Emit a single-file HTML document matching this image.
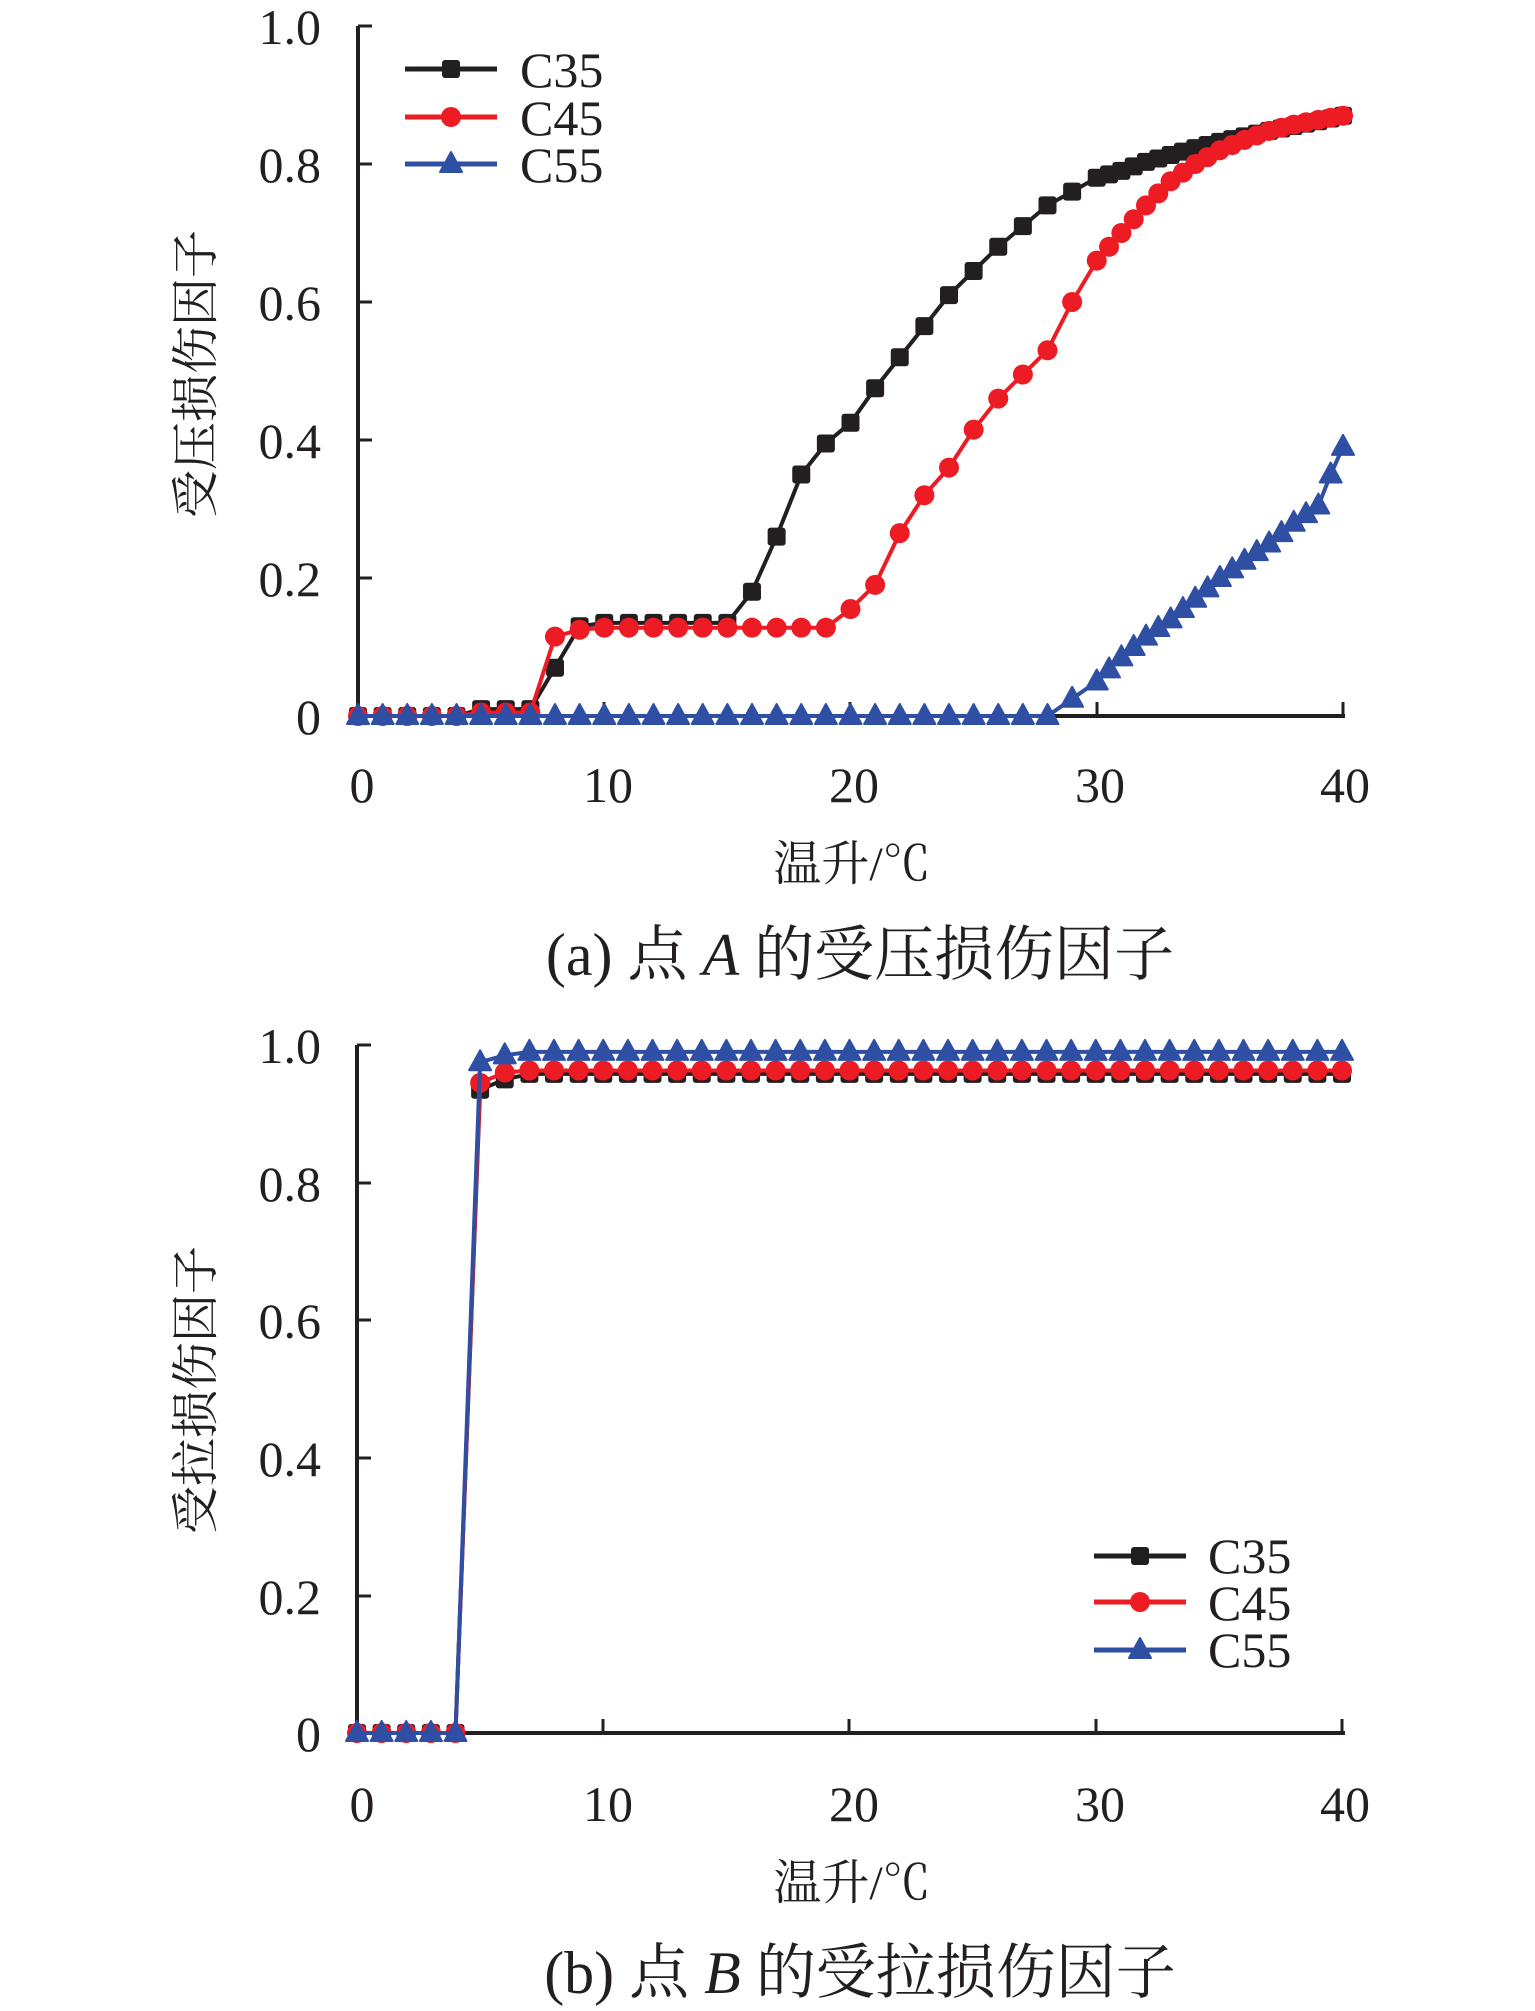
<!DOCTYPE html>
<html><head><meta charset="utf-8">
<style>
html,body{margin:0;padding:0;background:#fff;}
svg{display:block;}
text{fill:#231f20;}
.l{font-family:"Liberation Serif","Times New Roman",serif;}
.c{font-family:"Liberation Serif","Noto Serif CJK SC",serif;}
</style></head>
<body>
<svg id="s" width="1535" height="2011" viewBox="0 0 1535 2011" xmlns="http://www.w3.org/2000/svg">
<g>
<line x1="358" y1="26" x2="358" y2="716" stroke="#231f20" stroke-width="4"/>
<line x1="356" y1="716" x2="1345" y2="716" stroke="#231f20" stroke-width="4"/>
<g stroke="#231f20" stroke-width="3">
<line x1="358" y1="26" x2="372" y2="26"/><line x1="358" y1="164" x2="372" y2="164"/>
<line x1="358" y1="302" x2="372" y2="302"/><line x1="358" y1="440" x2="372" y2="440"/>
<line x1="358" y1="578" x2="372" y2="578"/>
<line x1="604" y1="716" x2="604" y2="702"/><line x1="850" y1="716" x2="850" y2="702"/>
<line x1="1097" y1="716" x2="1097" y2="702"/><line x1="1343" y1="716" x2="1343" y2="702"/>
</g>
<g class="l sq" font-size="50" text-anchor="end">
<text x="321" y="44">1.0</text><text x="321" y="182">0.8</text><text x="321" y="320">0.6</text>
<text x="321" y="458">0.4</text><text x="321" y="596">0.2</text><text x="321" y="734">0</text>
</g>
<g class="l sq" font-size="50" text-anchor="middle">
<text x="362" y="802">0</text><text x="608" y="802">10</text><text x="854" y="802">20</text>
<text x="1100" y="802">30</text><text x="1345" y="802">40</text>
</g>
<text class="c" x="852" y="880" font-size="48" text-anchor="middle">温升/℃</text>
<text class="c" transform="translate(212,374) rotate(-90)" font-size="48" text-anchor="middle">受压损伤因子</text>
<text class="c" x="860" y="975" font-size="60" text-anchor="middle">(a) 点 <tspan font-style="italic">A</tspan> 的受压损伤因子</text>
<g class="l" font-size="50">
<text x="520" y="87">C35</text><text x="520" y="135">C45</text><text x="520" y="182">C55</text>
</g>
</g>
<g>
<line x1="357" y1="1045" x2="357" y2="1733" stroke="#231f20" stroke-width="4"/>
<line x1="355" y1="1733" x2="1345" y2="1733" stroke="#231f20" stroke-width="4"/>
<g stroke="#231f20" stroke-width="3">
<line x1="357" y1="1045" x2="371" y2="1045"/><line x1="357" y1="1183" x2="371" y2="1183"/>
<line x1="357" y1="1320" x2="371" y2="1320"/><line x1="357" y1="1458" x2="371" y2="1458"/>
<line x1="357" y1="1596" x2="371" y2="1596"/>
<line x1="603" y1="1733" x2="603" y2="1719"/><line x1="849" y1="1733" x2="849" y2="1719"/>
<line x1="1096" y1="1733" x2="1096" y2="1719"/><line x1="1342" y1="1733" x2="1342" y2="1719"/>
</g>
<g class="l sq" font-size="50" text-anchor="end">
<text x="321" y="1063">1.0</text><text x="321" y="1201">0.8</text><text x="321" y="1338">0.6</text>
<text x="321" y="1476">0.4</text><text x="321" y="1614">0.2</text><text x="321" y="1751">0</text>
</g>
<g class="l sq" font-size="50" text-anchor="middle">
<text x="362" y="1821">0</text><text x="608" y="1821">10</text><text x="854" y="1821">20</text>
<text x="1100" y="1821">30</text><text x="1345" y="1821">40</text>
</g>
<text class="c" x="852" y="1899" font-size="48" text-anchor="middle">温升/℃</text>
<text class="c" transform="translate(212,1390) rotate(-90)" font-size="48" text-anchor="middle">受拉损伤因子</text>
<text class="c" x="860" y="1993" font-size="60" text-anchor="middle">(b) 点 <tspan font-style="italic">B</tspan> 的受拉损伤因子</text>
<g class="l" font-size="50">
<text x="1208" y="1573">C35</text><text x="1208" y="1620">C45</text><text x="1208" y="1667">C55</text>
</g>
</g>
<g id="dyn"></g>
</svg>
<script>
var NS="http://www.w3.org/2000/svg",g=document.getElementById("dyn");
var K="#231f20",R="#ed1c24",B="#2e4fa3";
function el(t,a){var e=document.createElementNS(NS,t);for(var k in a)e.setAttribute(k,a[k]);g.appendChild(e);return e;}
function mk(type,x,y,c){
 if(type=="s")el("rect",{x:x-9,y:y-9,width:18,height:18,rx:3,fill:c});
 else if(type=="c")el("circle",{cx:x,cy:y,r:10,fill:c});
 else el("path",{d:"M"+x+","+(y-12)+" L"+(x+11)+","+(y+8)+" L"+(x-11)+","+(y+8)+"Z",fill:c,stroke:c,"stroke-width":2,"stroke-linejoin":"round"});
}
function series(pts,x0,x1,y0,y1,c,type){
 var d="";pts.forEach(function(p,i){var X=x0+(x1-x0)*p[0]/40,Y=y0+(y1-y0)*p[1];d+=(i?"L":"M")+X.toFixed(1)+","+Y.toFixed(1);});
 el("path",{d:d,fill:"none",stroke:c,"stroke-width":4,"stroke-linejoin":"round"});
 pts.forEach(function(p){mk(type,x0+(x1-x0)*p[0]/40,y0+(y1-y0)*p[1],c);});
}
function expand(keys){
 var out=[];
 function val(x){for(var i=0;i<keys.length-1;i++){if(x>=keys[i][0]&&x<=keys[i+1][0]){var t=(x-keys[i][0])/(keys[i+1][0]-keys[i][0]||1);return keys[i][1]+t*(keys[i+1][1]-keys[i][1]);}}return keys[keys.length-1][1];}
 for(var x=0;x<=40.001;x+=(x>=30?0.5:1))out.push([x,val(x)]);
 return out;
}
var c35=expand([[0,0],[4,0],[5,0.01],[7,0.01],[8,0.07],[9,0.13],[10,0.135],[15,0.135],[16,0.18],[17,0.26],[18,0.35],[19,0.395],[20,0.425],[21,0.475],[22,0.52],[23,0.565],[24,0.61],[25,0.645],[26,0.68],[27,0.71],[28,0.74],[29,0.76],[30,0.78],[31,0.79],[32,0.803],[33,0.813],[34,0.823],[35,0.832],[36,0.84],[37,0.848],[38,0.855],[39,0.862],[40,0.87]]);
var c45=expand([[0,0],[4,0],[5,0.005],[7,0.005],[8,0.115],[9,0.125],[10,0.128],[19,0.128],[20,0.155],[21,0.19],[22,0.265],[23,0.32],[24,0.36],[25,0.415],[26,0.46],[27,0.495],[28,0.53],[29,0.6],[30,0.66],[31,0.7],[32,0.74],[33,0.775],[34,0.8],[35,0.82],[36,0.835],[37,0.848],[38,0.857],[39,0.864],[40,0.87]]);
var c55=expand([[0,0],[28,0],[29,0.025],[30,0.05],[31,0.085],[32,0.115],[33,0.14],[34,0.17],[35,0.2],[36,0.225],[37,0.25],[38,0.28],[39,0.305],[39.5,0.35],[40,0.39]]);
var A=[358,1343,716,26];
series(c35,A[0],A[1],A[2],A[3],K,"s");
series(c45,A[0],A[1],A[2],A[3],R,"c");
series(c55,A[0],A[1],A[2],A[3],B,"t");
function bser(v5,v6,v){var p=[];for(var x=0;x<=40;x++)p.push([x,x<=4?0:x==5?v5:x==6?v6:v]);return p;}
var Bb=[357,1342,1733,1045];
series(bser(0.935,0.95,0.958),Bb[0],Bb[1],Bb[2],Bb[3],K,"s");
series(bser(0.945,0.96,0.963),Bb[0],Bb[1],Bb[2],Bb[3],R,"c");
series(bser(0.975,0.985,0.99),Bb[0],Bb[1],Bb[2],Bb[3],B,"t");
function leg(x0,x1,y,c,t){el("line",{x1:x0,y1:y,x2:x1,y2:y,stroke:c,"stroke-width":5});mk(t,(x0+x1)/2,y,c);}
leg(405,497,69,K,"s");leg(405,497,117,R,"c");leg(405,497,164,B,"t");
leg(1094,1186,1556,K,"s");leg(1094,1186,1602,R,"c");leg(1094,1186,1650,B,"t");
</script>
</body></html>
